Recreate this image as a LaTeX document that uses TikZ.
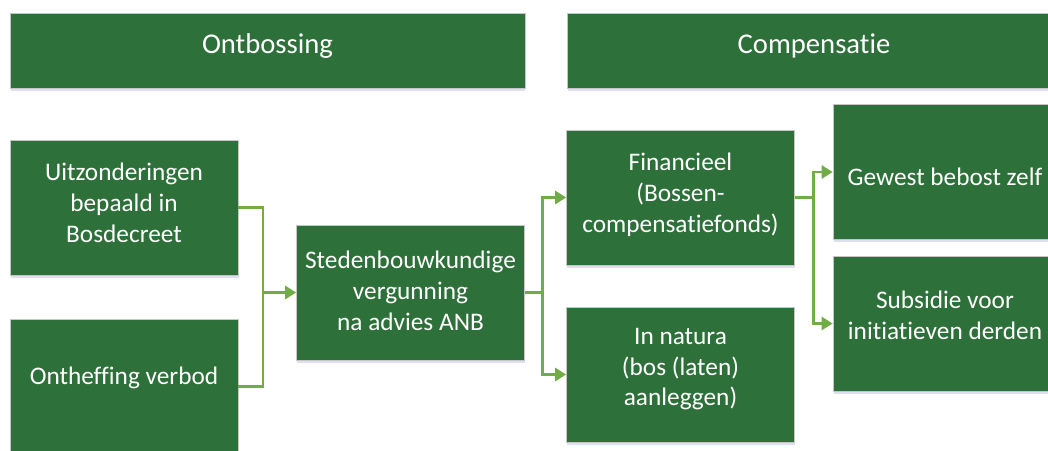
\documentclass[tikz,border=0pt]{standalone}
\usepackage{fontspec}
\setmainfont[Ligatures=NoCommon]{Carlito}
\usepackage{tikz}
\usetikzlibrary{arrows.meta,shadows}
\definecolor{boxgreen}{RGB}{46,112,58}
\definecolor{linkgreen}{RGB}{112,173,71}
\tikzset{
    bosbox/.style={draw=gray!45, line width=0.4pt, fill=boxgreen, text=white, align=center,
        font=\fontsize{14.4}{17.6}\selectfont, minimum width=4.56cm, minimum height=2.7cm, inner sep=2pt,
        drop shadow={fill=blue!40!gray, opacity=0.18, shadow xshift=0.3pt, shadow yshift=-1.6pt}},
    bosheader/.style={bosbox, minimum height=1.5cm, font=\fontsize{16.3}{19.6}\selectfont,
        text height=12pt, text depth=9pt},
    boslink/.style={draw=linkgreen, line width=1.7pt},
    bosarrow/.style={boslink, -{Triangle[length=2.2mm, width=2.6mm]}}
}

\begin{document}
\begin{tikzpicture}[x=0.02cm, y=-0.02cm]
    \useasboundingbox (0,0) rectangle (1048,450);

    % kopjes
    \node[bosheader, minimum width=10.3cm] (ontbossing) at (267.5,50.5) {Ontbossing};
    \node[bosheader, minimum width=9.88cm] (compensatie) at (814,50.5) {Compensatie};

    % ontbossing
    \node[bosbox, text depth=5.6pt] (uitzonderingen) at (124,207.5) {Uitzonderingen\\bepaald in\\Bosdecreet};
    \node[bosbox, text height=10.8pt, text depth=13.2pt] (ontheffing) at (124,386.5) {Ontheffing verbod};
    \node[bosbox, text depth=2.2pt] (vergunning) at (410.5,292.5) {Stedenbouwkundige\\vergunning\\na advies ANB};

    % compensatie
    \node[bosbox, text depth=5.9pt] (financieel) at (680.5,197.5) {Financieel\\(Bossen-\\compensatiefonds)};
    \node[bosbox, text depth=8.6pt] (natura) at (680.5,374.5) {In natura\\(bos (laten)\\aanleggen)};
    \node[bosbox, minimum width=4.48cm, text height=18.8pt, text depth=3pt] (gewest) at (945,172) {Gewest bebost zelf};
    \node[bosbox, minimum width=4.48cm, text depth=9.2pt] (subsidie) at (945,323.5) {Subsidie voor\\initiatieven derden};

    \coordinate (splitA) at (263,292.5);
    \coordinate (splitB) at (542,292.5);
    \coordinate (splitC) at (813,197.5);

    \draw[boslink] (uitzonderingen.east) -| (splitA) |- (ontheffing.east);
    \draw[bosarrow] (splitA) -- (vergunning.west);

    \draw[boslink] (vergunning.east) -- (splitB);
    \draw[bosarrow] (splitB) |- (financieel.west);
    \draw[bosarrow] (splitB) |- (natura.west);

    \draw[boslink] (financieel.east) -- (splitC);
    \draw[bosarrow] (splitC) |- (gewest.west);
    \draw[bosarrow] (splitC) |- (subsidie.west);
\end{tikzpicture}
\end{document}
